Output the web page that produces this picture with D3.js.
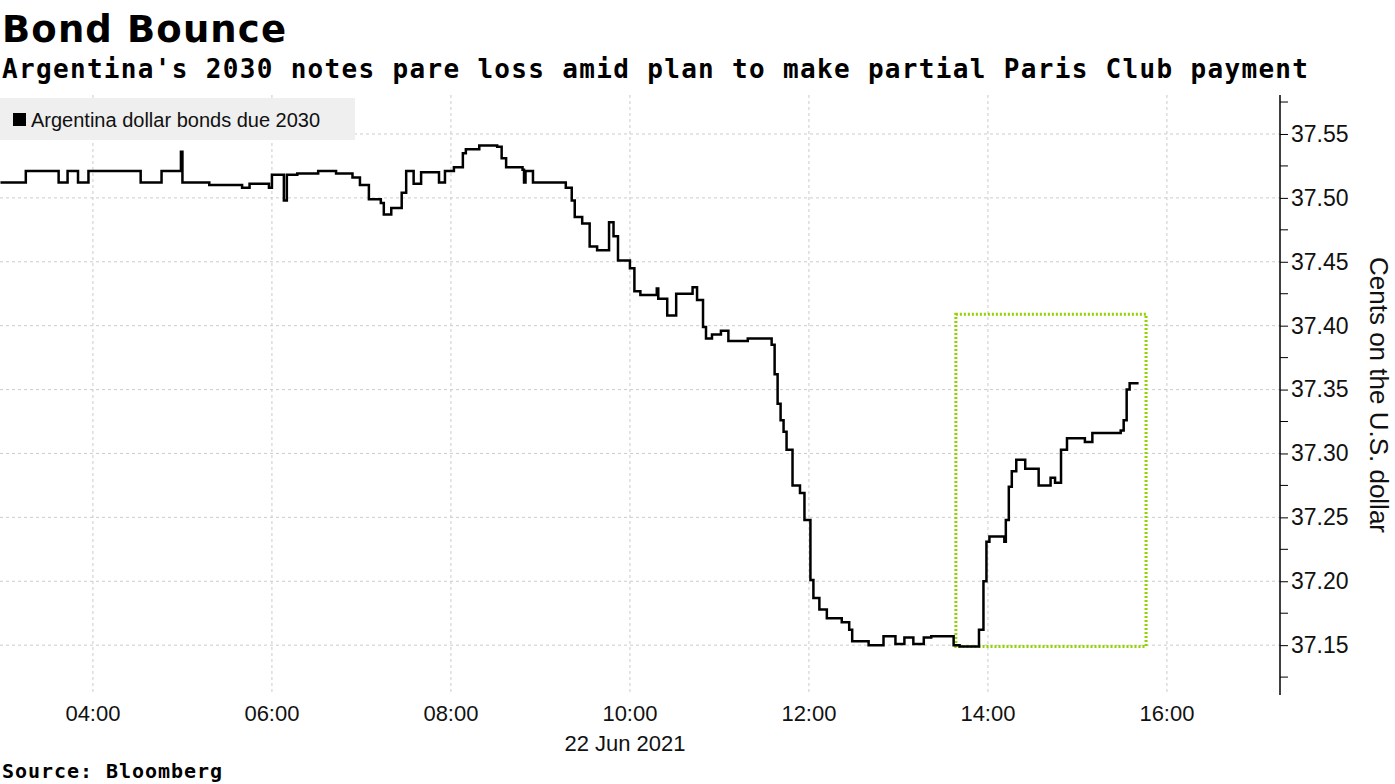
<!DOCTYPE html>
<html><head><meta charset="utf-8">
<script src="https://cdn.jsdelivr.net/npm/d3@7"></script>
<style>body{margin:0;background:#fff}svg{display:block}</style>
</head><body>
<svg id="chart" width="1395" height="784"></svg>
<script>
// minutes since midnight, 22 Jun 2021
const times = [178,195,217,223,230,237,272,286,299,300,318,340,345,358,360,368,370,377,391,403,414,419,425,433,435,440,447,450,455,460,472,476,482,488,490,499,511,514,517,528,529,530,535,557,561,563,568,573,578,586,589,592,600,603,607,618,619,625,631,642,645,649,651,655,661,666,679,695,697,699,701,703,705,709,714,717,721,723,727,732,742,747,749,760,770,778,784,790,797,802,817,821,834,837,839,841,851,852,854,856,859,865,874,882,885,889,893,905,910,929,931,933,935,941];
const values = [37.512,37.521,37.512,37.521,37.512,37.521,37.512,37.521,37.536,37.512,37.510,37.508,37.511,37.508,37.518,37.498,37.518,37.519,37.521,37.519,37.516,37.510,37.499,37.496,37.487,37.492,37.504,37.521,37.511,37.520,37.512,37.521,37.524,37.535,37.538,37.541,37.540,37.531,37.524,37.522,37.512,37.521,37.512,37.508,37.498,37.485,37.480,37.462,37.459,37.481,37.470,37.451,37.445,37.427,37.424,37.429,37.421,37.408,37.425,37.430,37.420,37.399,37.390,37.393,37.396,37.388,37.390,37.385,37.362,37.339,37.326,37.317,37.303,37.275,37.269,37.248,37.201,37.187,37.178,37.171,37.168,37.162,37.153,37.150,37.157,37.151,37.156,37.151,37.156,37.157,37.150,37.149,37.162,37.200,37.231,37.235,37.231,37.248,37.274,37.286,37.295,37.288,37.275,37.281,37.277,37.303,37.312,37.309,37.316,37.318,37.326,37.350,37.355,37.355];
const hourTicks = [240,360,480,600,720,840,960];
const hourLabels = ["04:00","06:00","08:00","10:00","12:00","14:00","16:00"];
const priceTicks = [37.15,37.20,37.25,37.30,37.35,37.40,37.45,37.50,37.55];
const minorTicks = [37.125,37.175,37.225,37.275,37.325,37.375,37.425,37.475,37.525,37.575];
const boxTimes = [818.5,946];
const boxValues = [37.409,37.149];

const svg = d3.select("#chart");
const x = d3.scaleLinear().domain([177.7,1035.8]).range([0,1280]);
const y = d3.scaleLinear().domain([37.5805,37.111]).range([95,695]);
const font = "'Liberation Sans', Arial, sans-serif";

// grid
svg.append("g").selectAll("line").data(hourTicks).join("line")
  .attr("x1", d => x(d)).attr("x2", d => x(d)).attr("y1", 95).attr("y2", 695)
  .attr("stroke", "#ccc").attr("stroke-dasharray", "3,3");
svg.append("g").selectAll("line").data(priceTicks).join("line")
  .attr("x1", 0).attr("x2", 1280).attr("y1", d => y(d)).attr("y2", d => y(d))
  .attr("stroke", "#ccc").attr("stroke-dasharray", "3,3");

// right axis
const yAxis = d3.axisRight(y).tickValues(priceTicks).tickFormat(d3.format(".2f")).tickSize(8).tickPadding(3);
const ga = svg.append("g").attr("transform", "translate(1280,0)").call(yAxis);
ga.select(".domain").attr("d", "M0,95V695").attr("stroke", "#000").attr("stroke-width", 1.5);
ga.selectAll("text").attr("font-family", font).attr("font-size", 23).attr("fill", "#111");
ga.selectAll(".minor").data(minorTicks).join("line").attr("class", "minor")
  .attr("x1", 0).attr("x2", 8).attr("y1", d => y(d)).attr("y2", d => y(d)).attr("stroke", "#000");
svg.append("text").attr("transform", "translate(1370,395) rotate(90)")
  .attr("text-anchor", "middle").attr("font-family", font).attr("font-size", 26).attr("fill", "#111")
  .text("Cents on the U.S. dollar");

// x labels
svg.append("g").selectAll("text").data(hourTicks).join("text")
  .attr("x", d => x(d)).attr("y", 721).attr("text-anchor", "middle")
  .attr("font-family", font).attr("font-size", 22).attr("fill", "#111")
  .text((d, i) => hourLabels[i]);
svg.append("text").attr("x", 625).attr("y", 751).attr("text-anchor", "middle")
  .attr("font-family", font).attr("font-size", 22).attr("fill", "#111").text("22 Jun 2021");

// highlight box
svg.append("rect").attr("x", x(boxTimes[0])).attr("y", y(boxValues[0]))
  .attr("width", x(boxTimes[1]) - x(boxTimes[0])).attr("height", y(boxValues[1]) - y(boxValues[0]))
  .attr("fill", "none").attr("stroke", "#8fd400").attr("stroke-width", 3).attr("stroke-dasharray", "2,2");

// line
const pts = times.map((t, i) => [t, values[i]]);
svg.append("path").datum(pts)
  .attr("d", d3.line().x(d => x(d[0])).y(d => y(d[1])).curve(d3.curveStepAfter))
  .attr("fill", "none").attr("stroke", "#000").attr("stroke-width", 2.5);

// legend
svg.append("rect").attr("x", 0).attr("y", 98).attr("width", 355).attr("height", 42).attr("fill", "#efefef");
svg.append("rect").attr("x", 13).attr("y", 113).attr("width", 13).attr("height", 13).attr("fill", "#000");
svg.append("text").attr("x", 31).attr("y", 127).attr("font-family", font).attr("font-size", 20).attr("fill", "#111")
  .text("Argentina dollar bonds due 2030");

// titles
svg.append("text").attr("x", 2).attr("y", 42).attr("font-family", "'DejaVu Sans', sans-serif").attr("font-weight", "bold")
  .attr("font-size", 37).attr("fill", "#000").attr("textLength", 284).text("Bond Bounce");
svg.append("text").attr("x", 2).attr("y", 78).attr("font-family", "'DejaVu Sans Mono', monospace").attr("font-weight", "bold")
  .attr("font-size", 26).attr("fill", "#000").attr("textLength", 1306).text("Argentina's 2030 notes pare loss amid plan to make partial Paris Club payment");
svg.append("text").attr("x", 2).attr("y", 778).attr("font-family", "'DejaVu Sans Mono', monospace").attr("font-weight", "bold")
  .attr("font-size", 20).attr("fill", "#000").attr("textLength", 220).text("Source: Bloomberg");
</script>
</body></html>
